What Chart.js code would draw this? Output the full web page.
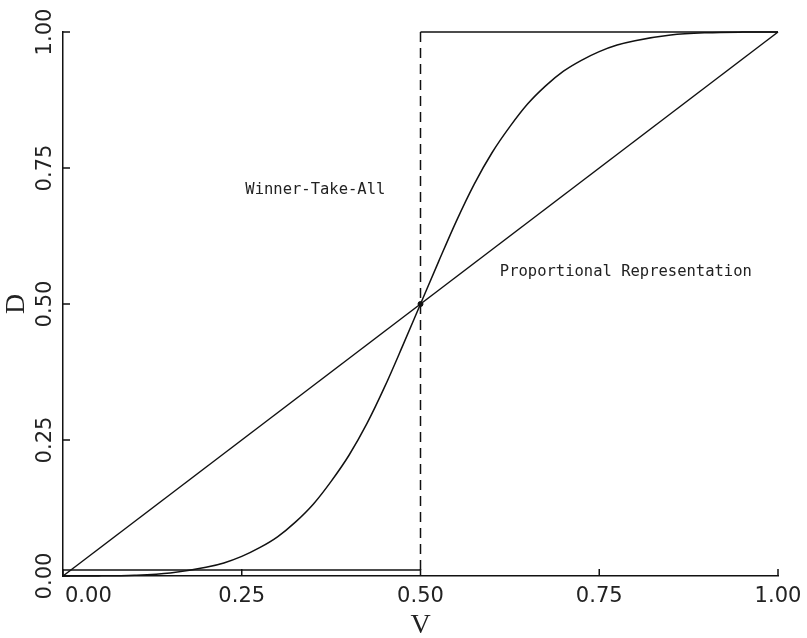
<!DOCTYPE html>
<html>
<head>
<meta charset="utf-8">
<script src="https://cdn.jsdelivr.net/npm/chart.js@4"></script>
<style>
  html, body { margin: 0; padding: 0; background: #fff; }
  #wrap { width: 807px; height: 638px; position: relative; }
</style>
</head>
<body>
<div id="wrap"><canvas id="seatsVotes"></canvas></div>
<script>
// axis ticks
const tickValues = [0, 0.25, 0.5, 0.75, 1];
const tickLabels = ['0.00', '0.25', '0.50', '0.75', '1.00'];

// proportional representation (straight line)
const prVotes = [0, 1];
const prSeats = [0, 1];

// S-shaped seats/votes curve
const sVotes = [0, 0.05, 0.10, 0.15, 0.20, 0.225, 0.25, 0.275, 0.30, 0.325, 0.35, 0.375, 0.40, 0.425, 0.45, 0.475,
                0.50, 0.525, 0.55, 0.575, 0.60, 0.625, 0.65, 0.675, 0.70, 0.725, 0.75, 0.775, 0.80, 0.85, 0.90, 0.95, 1];
const sSeats = [0, 0.0002, 0.0014, 0.0055, 0.016, 0.024, 0.036, 0.052, 0.072, 0.099, 0.132, 0.174, 0.222, 0.28, 0.348, 0.423,
                0.50, 0.577, 0.652, 0.72, 0.778, 0.826, 0.868, 0.901, 0.928, 0.948, 0.964, 0.976, 0.984, 0.9945, 0.9986, 0.9998, 1];

// winner-take-all step
const wtaVotes = [0, 0.5, 0.5, 1];
const wtaSeats = [0.011, 0.011, 1, 1];

// crossing point
const midVotes = [0.5];
const midSeats = [0.5];

// text notes inside the plot (data units)
const noteLabels = ['Winner-Take-All', 'Proportional Representation'];
const noteVotes = [0.255, 0.611];
const noteSeats = [0.71, 0.559];

const axisTitles = { x: 'V', y: 'D' };

const ink = '#111';
const pts = (xs, ys) => xs.map((x, i) => ({ x, y: ys[i] }));

// draws inward ticks, tick labels, axis titles and notes
const paperAxes = {
  id: 'paperAxes',
  afterDraw(chart) {
    const { ctx, chartArea: a, scales: { x, y } } = chart;
    ctx.save();
    ctx.strokeStyle = ink;
    ctx.lineWidth = 1.5;
    ctx.beginPath();
    tickValues.forEach(v => {
      const px = x.getPixelForValue(v);
      ctx.moveTo(px, a.bottom); ctx.lineTo(px, a.bottom - 7);
      const py = y.getPixelForValue(v);
      ctx.moveTo(a.left, py); ctx.lineTo(a.left + 7, py);
    });
    ctx.stroke();

    ctx.fillStyle = '#222';
    ctx.font = '21px "DejaVu Sans"';
    ctx.textBaseline = 'middle';
    tickLabels.forEach((t, i) => {
      const px = x.getPixelForValue(tickValues[i]);
      ctx.textAlign = i === 0 ? 'left' : 'center';
      ctx.fillText(t, i === 0 ? px + 2 : px, a.bottom + 21);
      const py = y.getPixelForValue(tickValues[i]);
      ctx.save();
      ctx.translate(a.left - 17, py);
      ctx.rotate(-Math.PI / 2);
      ctx.textAlign = 'center';
      ctx.fillText(t, 0, 0);
      ctx.restore();
    });

    ctx.font = '28px "Liberation Serif"';
    ctx.textAlign = 'center';
    ctx.fillText(axisTitles.x, x.getPixelForValue(0.5), a.bottom + 50);
    ctx.save();
    ctx.translate(17, (a.top + a.bottom) / 2);
    ctx.rotate(-Math.PI / 2);
    ctx.fillText(axisTitles.y, 0, 0);
    ctx.restore();

    ctx.font = '15.5px "DejaVu Sans Mono"';
    ctx.textAlign = 'left';
    noteLabels.forEach((t, i) => {
      ctx.fillText(t, x.getPixelForValue(noteVotes[i]), y.getPixelForValue(noteSeats[i]));
    });
    ctx.restore();
  }
};

const lineStyle = { showLine: true, borderColor: ink, borderWidth: 1.5, pointRadius: 0, fill: false, clip: false };

new Chart(document.getElementById('seatsVotes'), {
  type: 'scatter',
  data: {
    datasets: [
      { ...lineStyle, label: 'Proportional', data: pts(prVotes, prSeats) },
      { ...lineStyle, label: 'Curve', data: pts(sVotes, sSeats), cubicInterpolationMode: 'monotone' },
      { ...lineStyle, label: 'Winner-Take-All', data: pts(wtaVotes, wtaSeats),
        segment: { borderDash: c => c.p0.parsed.x === c.p1.parsed.x ? [10, 6] : undefined } },
      { label: 'mid', data: pts(midVotes, midSeats), pointRadius: 2.5, backgroundColor: ink, borderColor: ink }
    ]
  },
  options: {
    responsive: true,
    maintainAspectRatio: false,
    animation: false,
    layout: { padding: { top: 32, right: 29, left: 0, bottom: 0 } },
    plugins: { legend: { display: false }, tooltip: { enabled: false } },
    scales: {
      x: {
        type: 'linear', min: 0, max: 1,
        ticks: { display: false },
        grid: { display: false },
        border: { display: true, color: ink, width: 1.5 },
        afterFit: s => { s.height = 62; }
      },
      y: {
        type: 'linear', min: 0, max: 1,
        ticks: { display: false },
        grid: { display: false },
        border: { display: true, color: ink, width: 1.5 },
        afterFit: s => { s.width = 63; }
      }
    }
  },
  plugins: [paperAxes]
});
</script>
</body>
</html>
